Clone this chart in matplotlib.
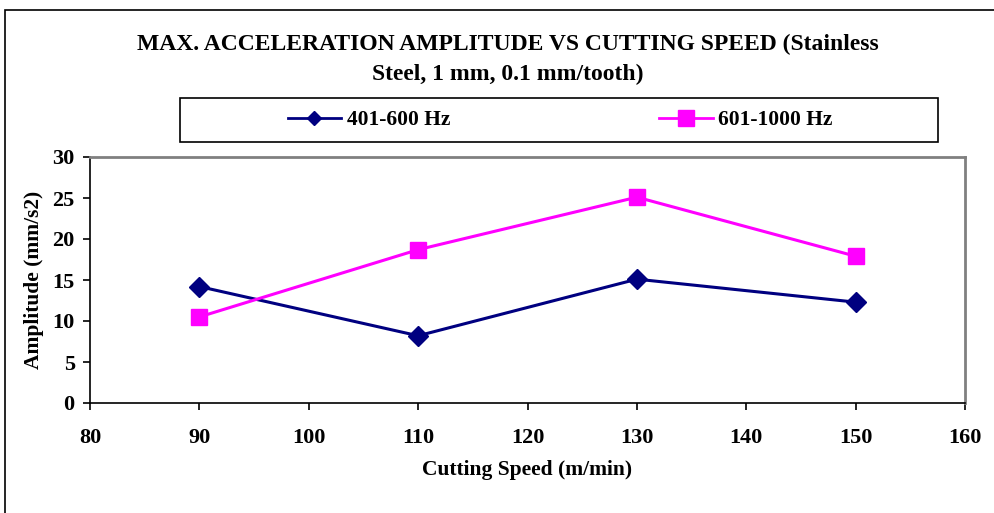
import matplotlib.pyplot as plt
from matplotlib.patches import Rectangle

speed = [90, 110, 130, 150]
amp_401_600 = [14.2, 8.2, 15.1, 12.3]
amp_601_1000 = [10.5, 18.7, 25.1, 17.9]

plt.rcParams['font.family'] = ['Liberation Serif', 'DejaVu Serif']
plt.rcParams['font.weight'] = 'bold'

fig = plt.figure(figsize=(9.95, 5.13), dpi=100)
W, H = 995, 513

# marco del área del gráfico (cortado por la derecha y abajo)
fig.patches.append(Rectangle((5 / W, -0.1), 1.1, (H - 10) / H + 0.1,
                             transform=fig.transFigure, fill=False,
                             edgecolor='black', linewidth=1.2))
# caja de la leyenda
fig.patches.append(Rectangle((180 / W, 1 - 142 / H), 758 / W, 44 / H,
                             transform=fig.transFigure, fill=False,
                             edgecolor='black', linewidth=1.2))

ax = fig.add_axes([90 / W, (H - 403) / H, 875 / W, 246 / H])

ax.plot(speed, amp_401_600, color='#000080', marker='D', markersize=10,
        linewidth=2.2, label='401-600 Hz')
ax.plot(speed, amp_601_1000, color='#FF00FF', marker='s', markersize=11,
        linewidth=2.2, label='601-1000 Hz')

ax.set_xlim(80, 160)
ax.set_ylim(0, 30)
ax.set_xticks(range(80, 161, 10))
ax.set_yticks(range(0, 31, 5))
ax.tick_params(axis='both', direction='out', length=5, width=1.2, labelsize=16)
ax.tick_params(axis='x', pad=13)
ax.tick_params(axis='y', pad=6)

for s in ['top', 'right']:
    ax.spines[s].set_color('#808080')
    ax.spines[s].set_linewidth(2)
for s in ['left', 'bottom']:
    ax.spines[s].set_color('black')
    ax.spines[s].set_linewidth(1.2)

ax.set_xlabel('Cutting Speed (m/min)', fontsize=15.5, fontweight='bold', labelpad=9)
ax.set_ylabel('Amplitude (mm/s2)', fontsize=15.5, fontweight='bold', labelpad=6)

fig.text(508 / W, 1 - 44 / H, 'MAX. ACCELERATION AMPLITUDE VS CUTTING SPEED (Stainless',
         ha='center', va='center', fontsize=17, fontweight='bold')
fig.text(508 / W, 1 - 74 / H, 'Steel, 1 mm, 0.1 mm/tooth)',
         ha='center', va='center', fontsize=17, fontweight='bold')

handles, labels = ax.get_legend_handles_labels()
leg = fig.legend(handles, labels, loc='center', ncol=2,
                 bbox_to_anchor=(560 / W, 1 - 120 / H),
                 frameon=False, prop={'size': 15.5, 'weight': 'bold'},
                 handlelength=2.5, handletextpad=0.25, columnspacing=9.7,
                 borderpad=0)
lines = leg.get_lines()
for ln in lines:
    ln.set_linewidth(2)
lines[0].set_markersize(7.5)
lines[1].set_markersize(11)

plt.savefig('out.png', dpi=100)
